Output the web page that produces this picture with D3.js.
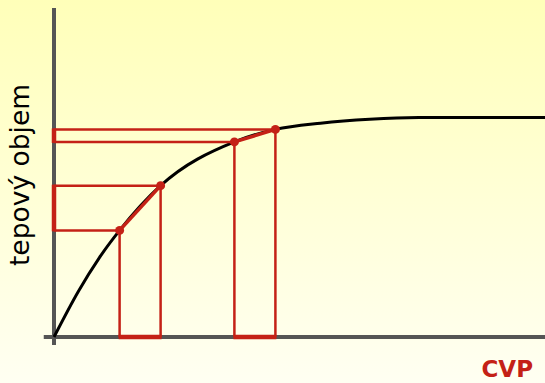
<!DOCTYPE html>
<html>
<head>
<meta charset="utf-8">
<script src="https://cdn.jsdelivr.net/npm/d3@7"></script>
<style>
  html, body { margin: 0; padding: 0; }
  svg { display: block; }
</style>
</head>
<body>
<svg></svg>
<script>
// curve CVP -> tepovy objem
let curveX = [0, 0.6, 1.1, 1.6, 2.6, 4.4, 5.4, 6.5, 7.7, 8.9, 12]
let curveY = [0, 14, 24, 32.4, 46, 59.3, 63.1, 65, 66.2, 66.7, 66.7]

// marked points, taken in pairs
let markX = [1.6, 2.6, 4.4, 5.4]
let markY = [32.4, 46, 59.3, 63.1]
let pairs = [[0, 1], [2, 3]]

let yLabel = 'tepový objem'
let xLabel = 'CVP'

function drawChart () {
  let svgWidth = 545
  let svgHeight = 383
  let red = '#c42116'

  let svg = d3.select('svg')
    .attr('width', svgWidth)
    .attr('height', svgHeight)

  let grad = svg.append('defs').append('linearGradient')
    .attr('id', 'bg')
    .attr('x1', 0).attr('y1', 0).attr('x2', 0).attr('y2', 1)
  grad.append('stop').attr('offset', '0%').attr('stop-color', '#ffffb9')
  grad.append('stop').attr('offset', '100%').attr('stop-color', '#fffff2')

  svg.append('rect')
    .attr('width', svgWidth)
    .attr('height', svgHeight)
    .attr('fill', 'url(#bg)')

  let x = d3.scaleLinear().domain([0, 12]).range([54, 546])
  let y = d3.scaleLinear().domain([0, 100]).range([337, 8])

  // axes
  svg.append('line')
    .attr('x1', x(0)).attr('x2', x(0))
    .attr('y1', y(-2.4)).attr('y2', y(100))
    .attr('stroke', '#555').attr('stroke-width', 4)
  svg.append('line')
    .attr('x1', x(-0.25)).attr('x2', x(12))
    .attr('y1', y(0)).attr('y2', y(0))
    .attr('stroke', '#555').attr('stroke-width', 4)

  let curveData = curveX.map((d, i) => ({ x: d, y: curveY[i] }))
  let line = d3.line()
    .x((d) => x(d.x))
    .y((d) => y(d.y))
    .curve(d3.curveMonotoneX)

  svg.append('path')
    .datum(curveData)
    .attr('d', line)
    .attr('fill', 'none')
    .attr('stroke', '#000')
    .attr('stroke-width', 3)

  let g = svg.append('g')
  pairs.forEach((p) => {
    let a = p[0]
    let b = p[1]
    // guides to both axes
    p.forEach((i) => {
      g.append('line')
        .attr('x1', x(0)).attr('x2', x(markX[i]))
        .attr('y1', y(markY[i])).attr('y2', y(markY[i]))
        .attr('stroke', red).attr('stroke-width', 2.5)
      g.append('line')
        .attr('x1', x(markX[i])).attr('x2', x(markX[i]))
        .attr('y1', y(markY[i])).attr('y2', y(0))
        .attr('stroke', red).attr('stroke-width', 2.5)
    })
    // thick bars on the axes
    g.append('line')
      .attr('x1', x(0)).attr('x2', x(0))
      .attr('y1', y(markY[a]) + 1).attr('y2', y(markY[b]) - 1)
      .attr('stroke', red).attr('stroke-width', 4.5)
    g.append('line')
      .attr('x1', x(markX[a]) - 1).attr('x2', x(markX[b]) + 1)
      .attr('y1', y(0)).attr('y2', y(0))
      .attr('stroke', red).attr('stroke-width', 4.5)
    // segment of curve between the two points
    g.append('path')
      .datum(curveData.filter((d) => d.x >= markX[a] && d.x <= markX[b]))
      .attr('d', line)
      .attr('fill', 'none')
      .attr('stroke', red)
      .attr('stroke-width', 3.5)
  })

  g.selectAll('circle')
    .data(markX)
    .join('circle')
    .attr('cx', (d) => x(d))
    .attr('cy', (d, i) => y(markY[i]))
    .attr('r', 4.5)
    .attr('fill', red)

  svg.append('text')
    .attr('transform', 'translate(29, 175) rotate(-90)')
    .attr('text-anchor', 'middle')
    .attr('font-family', 'DejaVu Sans')
    .attr('font-size', 26.5)
    .attr('fill', '#000')
    .text(yLabel)

  svg.append('text')
    .attr('x', 533)
    .attr('y', 377)
    .attr('text-anchor', 'end')
    .attr('font-family', 'DejaVu Sans')
    .attr('font-weight', 'bold')
    .attr('font-size', 23)
    .attr('fill', red)
    .text(xLabel)
}

drawChart()
</script>
</body>
</html>
